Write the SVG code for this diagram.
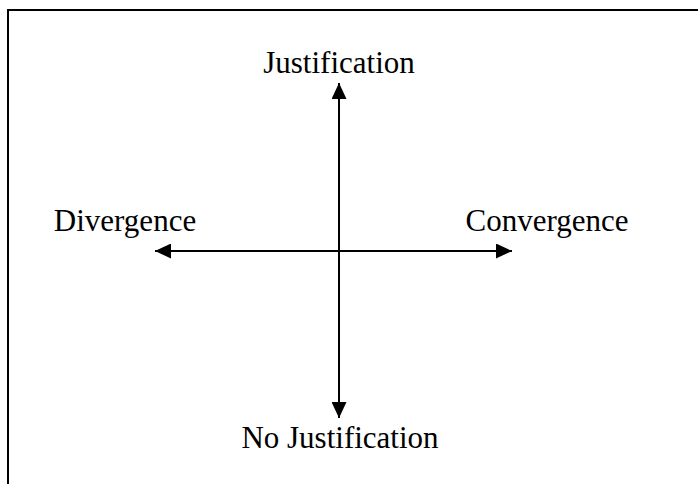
<svg xmlns="http://www.w3.org/2000/svg" width="698" height="484" viewBox="0 0 698 484">
<defs>
<style>
.lbl{font-family:"Liberation Serif","Times New Roman",serif;font-size:31px;fill:#000;text-anchor:middle}
.ax{stroke:#000;stroke-width:2;fill:none}
</style>
<marker id="ah" viewBox="0 0 16 15" refX="16" refY="7.5" markerWidth="16" markerHeight="15" markerUnits="userSpaceOnUse" orient="auto-start-reverse">
<path d="M0,0 L16,7.5 L0,15 Z" fill="#000"/>
</marker>
</defs>
<rect width="698" height="484" fill="#fff"/>
<path d="M8,484 V10 H698" stroke="#000" stroke-width="2" fill="none"/>
<g id="connectors">
<line class="ax" x1="339" y1="418" x2="339" y2="83" marker-start="url(#ah)" marker-end="url(#ah)"/>
<line class="ax" x1="155" y1="251" x2="512" y2="251" marker-start="url(#ah)" marker-end="url(#ah)"/>
</g>
<g id="justification"><text class="lbl" x="339" y="73">Justification</text></g>
<g id="no-justification"><text class="lbl" x="340" y="448">No Justification</text></g>
<g id="divergence"><text class="lbl" x="125" y="231">Divergence</text></g>
<g id="convergence"><text class="lbl" x="547" y="231">Convergence</text></g>
</svg>
